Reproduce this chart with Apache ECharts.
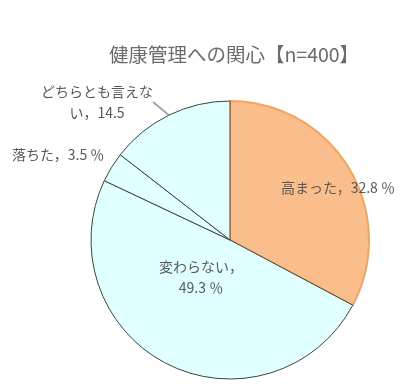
<!DOCTYPE html>
<html><head><meta charset="utf-8">
<script src="https://cdn.jsdelivr.net/npm/echarts@6/dist/echarts.min.js"></script>
<style>html,body{margin:0;padding:0;background:#fff}#c{width:416px;height:384px}</style>
</head><body><div id="c"></div>
<script>
const titleText = '健康管理への関心【n=400】';
const categories = ['高まった', '変わらない', '落ちた', 'どちらとも言えない'];
const values = [32.8, 49.3, 3.5, 14.5];
const labelTexts = ['高まった，32.8 ％', '変わらない，\n49.3 ％', '落ちた，3.5 ％', 'どちらとも言えな\nい，14.5'];

const fillColors = ['#F9BE8C', '#E0FFFF', '#E0FFFF', '#E0FFFF'];
const borderColors = ['#F5A45C', '#404040', '#404040', '#404040'];
const labelPos = [
  {x: 338, y: 188, align: 'center'},
  {x: 201, y: 277, align: 'center'},
  {x: 12, y: 155, align: 'left'},
  {x: 97, y: 102, align: 'center'}
];

const font = '"Noto Sans CJK JP", "Noto Sans", sans-serif';
const chart = echarts.init(document.getElementById('c'), null, {renderer: 'canvas'});
chart.setOption({
  animation: false,
  title: {
    text: titleText, left: 229, textAlign: 'center', top: 40,
    textStyle: {fontFamily: font, fontSize: 19.5, fontWeight: 'normal', color: '#6B6B6B'}
  },
  series: [{
    type: 'pie',
    center: [230, 240],
    radius: [0, 139],
    startAngle: 90,
    clockwise: true,
    data: categories.map((c, i) => ({
      name: c, value: values[i],
      itemStyle: {color: fillColors[i], borderColor: borderColors[i], borderWidth: i === 0 ? 2 : 1},
      label: {formatter: labelTexts[i]},
      labelLine: {show: i === 3, length: 14, length2: 0, lineStyle: {color: '#A6A6A6', width: 2}}
    })),
    label: {
      show: true, position: 'outside', alignTo: 'none', overflow: 'none',
      fontFamily: font, fontSize: 14, color: '#595959', lineHeight: 21
    },
    labelLayout: function (p) {
      const lp = labelPos[p.dataIndex];
      return {x: lp.x, y: lp.y, align: lp.align, verticalAlign: 'middle'};
    },
    emphasis: {disabled: true}
  }]
});
</script></body></html>
